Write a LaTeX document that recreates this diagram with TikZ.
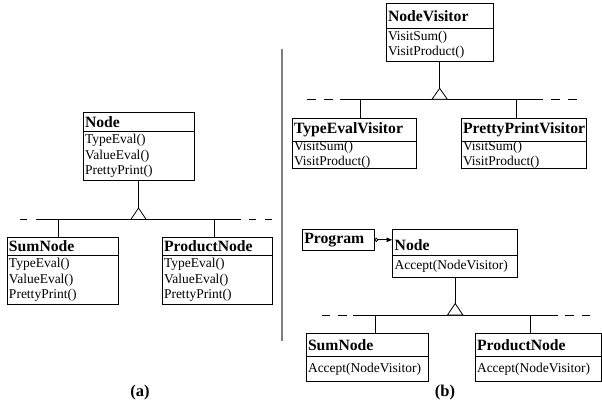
\documentclass[tikz,border=0pt]{standalone}
\usepackage{fontspec}
\setmainfont{Liberation Serif}
\usetikzlibrary{arrows.meta,calc}

\begin{document}
\begin{tikzpicture}[x=1pt,y=-1pt,line width=0.8pt,
    classname/.style={draw,anchor=north west,outer sep=0pt,inner xsep=2pt,inner ysep=1pt,
      align=left,font=\fontsize{15.7}{17}\selectfont\bfseries},
    classops/.style={draw,anchor=north west,outer sep=0pt,inner xsep=2pt,inner ysep=1pt,
      align=left,font=\fontsize{13.5}{15.3}\selectfont},
    inherit/.style={fill=white},
    caption/.style={font=\fontsize{16.5}{18}\selectfont\bfseries}]
  \useasboundingbox (0,0) rectangle (602,402);

  % (a) one class per node kind
  \node[classname,text width=107pt,minimum height=19.4pt] (lnode) at (83,112.3) {Node};
  \node[classops,text width=107pt,minimum height=48.3pt] (lnode-m) at (lnode.south west)
    {TypeEval()\\ValueEval()\\PrettyPrint()};
  \node[classname,text width=107.3pt,minimum height=18.2pt] (lsum) at (7,237.5) {SumNode};
  \node[classops,text width=107.3pt,minimum height=48.6pt] (lsum-m) at (lsum.south west)
    {TypeEval()\\ValueEval()\\PrettyPrint()};
  \node[classname,text width=106pt,minimum height=18.2pt] (lprod) at (162,237.5) {ProductNode};
  \node[classops,text width=106pt,minimum height=48.6pt] (lprod-m) at (lprod.south west)
    {TypeEval()\\ValueEval()\\PrettyPrint()};

  \coordinate (lbarLend) at (20,219.5);
  \coordinate (lbarL) at (36,219.5);
  \coordinate (lbarR) at (241,219.5);
  \coordinate (lbarRend) at (272,219.5);
  \coordinate (lbase) at (lnode-m.south |- lbarL);
  \coordinate (lsum-in) at (58.3,237.5);
  \coordinate (lprod-in) at (214,237.5);
  \draw (lbarL) -- (lbarR);
  \draw[dash pattern=on 7pt off 9pt] (lbarLend) -- (lbarL);
  \draw[dash pattern=on 7pt off 9pt] (lbarRend) -- (lbarR);
  \draw (lnode-m.south) -- ($(lbase)+(0,-11.5)$);
  \draw[inherit] (lbase) ++(-7.7,0) -- ++(7.7,-11.5) -- ++(7.7,11.5) -- cycle;
  \draw (lsum-in |- lbarL) -- (lsum-in);
  \draw (lprod-in |- lbarL) -- (lprod-in);

  \draw[draw=black!50,line width=1.3pt] (282,49) -- (282,341);

  % (b) visitors
  \node[classname,text width=103.3pt,minimum height=25pt] (visitor) at (386,3.3) {NodeVisitor};
  \node[classops,text width=103.3pt,minimum height=33.4pt] (visitor-m) at (visitor.south west)
    {VisitSum()\\VisitProduct()};
  \node[classname,text width=120pt,minimum height=23pt] (tev) at (292,118.3) {TypeEvalVisitor};
  \node[classops,text width=120pt,minimum height=25.4pt,inner ysep=0pt] (tev-m) at (tev.south west)
    {VisitSum()\\VisitProduct()};
  \node[classname,text width=121.7pt,minimum height=23pt] (ppv) at (461,118.3) {PrettyPrintVisitor};
  \node[classops,text width=121.7pt,minimum height=25.4pt,inner ysep=0pt] (ppv-m) at (ppv.south west)
    {VisitSum()\\VisitProduct()};

  \coordinate (vbarLend) at (307,99.3);
  \coordinate (vbarL) at (340,99.3);
  \coordinate (vbarR) at (543,99.3);
  \coordinate (vbarRend) at (577,99.3);
  \coordinate (vbase) at (visitor-m.south |- vbarL);
  \coordinate (tev-in) at (360.7,118.3);
  \coordinate (ppv-in) at (516,118.3);
  \draw (vbarL) -- (vbarR);
  \draw[dash pattern=on 9pt off 8pt] (vbarLend) -- (vbarL);
  \draw[dash pattern=on 9pt off 8pt] (vbarRend) -- (vbarR);
  \draw (visitor-m.south) -- ($(vbase)+(0,-11)$);
  \draw[inherit] (vbase) ++(-7.7,0) -- ++(7.7,-11) -- ++(7.7,11) -- cycle;
  \draw (tev-in |- vbarL) -- (tev-in);
  \draw (ppv-in |- vbarL) -- (ppv-in);

  % (b) nodes that accept a visitor
  \node[classname,text width=68pt,minimum height=21pt] (program) at (302.3,229.3) {Program};
  \node[classname,text width=121pt,minimum height=25.7pt] (rnode) at (392.7,229.3)
    {\raisebox{-4pt}[8pt][0pt]{Node}};
  \node[classops,text width=121pt,minimum height=22pt] (rnode-m) at (rnode.south west)
    {Accept(NodeVisitor)};
  \node[classname,text width=118.3pt,minimum height=23.4pt] (rsum) at (306,333.3) {SumNode};
  \node[classops,text width=118.3pt,minimum height=25pt] (rsum-m) at (rsum.south west)
    {Accept(NodeVisitor)};
  \node[classname,text width=122pt,minimum height=23.4pt] (rprod) at (475,333.3) {ProductNode};
  \node[classops,text width=122pt,minimum height=25pt] (rprod-m) at (rprod.south west)
    {Accept(NodeVisitor)};

  \draw[{Circle[open,length=4pt,width=4pt]}-{Latex[length=6pt,width=5pt]}]
    (program.east) -- (program.east -| rnode.west);

  \coordinate (nbarLend) at (321.7,315);
  \coordinate (nbarL) at (353.3,315);
  \coordinate (nbarR) at (556.7,315);
  \coordinate (nbarRend) at (590,315);
  \coordinate (nbase) at (rnode-m.south |- nbarL);
  \coordinate (rsum-in) at (375.7,333.3);
  \coordinate (rprod-in) at (530.7,333.3);
  \draw (nbarL) -- (nbarR);
  \draw[dash pattern=on 8.5pt off 8pt] (nbarLend) -- (nbarL);
  \draw[dash pattern=on 8.5pt off 8pt] (nbarRend) -- (nbarR);
  \draw (rnode-m.south) -- ($(nbase)+(0,-11.5)$);
  \draw[inherit] (nbase) ++(-7.7,0) -- ++(7.7,-11.5) -- ++(7.7,11.5) -- cycle;
  \draw (rsum-in |- nbarL) -- (rsum-in);
  \draw (rprod-in |- nbarL) -- (rprod-in);

  \node[caption] (capa) at (140,393) {(a)};
  \node[caption] (capb) at (445,393) {(b)};
\end{tikzpicture}
\end{document}
